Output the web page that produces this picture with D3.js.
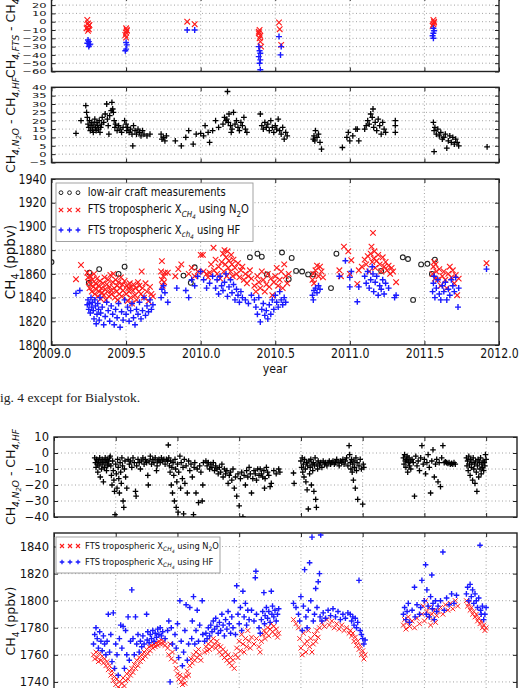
<!DOCTYPE html>
<html><head><meta charset="utf-8">
<script src="https://cdn.jsdelivr.net/npm/d3@7"></script>
<style>
body{margin:0;background:#fff}
svg{display:block}
text{white-space:pre}
.grid{stroke:#8a8a8a;stroke-width:0.8;stroke-dasharray:1,2.5}
</style>
</head><body>
<svg id="c" width="520" height="688"></svg>
<script>
// ---------------- tick values ----------------
const fig1XTicks = [2009.0,2009.5,2010.0,2010.5,2011.0,2011.5,2012.0];
const p1YTicks = [-60,-50,-40,-30,-20,-10,0,10,20];
const p2YTicks = [-5,0,5,10,15,20,25,30,35,40];
const p3YTicks = [1800,1820,1840,1860,1880,1900,1920,1940];
const fig2XTicks = [2009.0,2009.5,2010.0,2010.5,2011.0,2011.5,2012.0,2012.5];
const pAYTicks = [-40,-30,-20,-10,0,10];
const pBYTicks = [1740,1760,1780,1800,1820,1840];

// ---------------- figure 1 data ----------------
const f1DiffN2O = [[2009.24,2],[2009.245,-2],[2009.25,-5],[2009.24,-7],[2009.25,-9],[2009.245,-11],[2009.255,-4],[2009.235,-8],
[2009.5,-8],[2009.505,-11],[2009.5,-13],[2009.495,-16],[2009.5,-19],[2009.505,-10],
[2009.91,0],[2009.96,-3],
[2010.395,-10],[2010.39,-14],[2010.4,-17],[2010.395,-20],[2010.4,-24],[2010.39,-12],[2010.405,-30],
[2010.525,-1],[2010.53,-9],[2010.54,-28],
[2011.56,2],[2011.565,-1],[2011.56,-3],[2011.555,-5],[2011.565,0]];
const f1DiffHF = [[2009.245,-22],[2009.25,-24],[2009.24,-26],[2009.255,-28],[2009.25,-30],[2009.26,-27],
[2009.5,-25],[2009.505,-28],[2009.5,-33],[2009.495,-35],
[2009.91,-10],[2009.96,-10],
[2010.39,-30],[2010.395,-35],[2010.4,-38],[2010.39,-42],[2010.4,-46],[2010.395,-50],[2010.4,-58],
[2010.525,-18],[2010.54,-30],[2010.535,-40],
[2011.56,-8],[2011.565,-11],[2011.56,-14],[2011.555,-17],[2011.56,-20]];
const f1DiffInter = [[2009.164,12.5],[2009.198,20],[2009.23,29],[2009.235,25],[2009.24,22],[2009.245,18],[2009.25,16],[2009.255,20],[2009.26,14],[2009.265,17],[2009.27,19],[2009.275,15],[2009.28,13],[2009.285,18],[2009.29,21],[2009.295,16],[2009.3,14],[2009.305,19],[2009.31,17],[2009.315,15],[2009.32,20],[2009.325,13],[2009.33,16],[2009.335,18],[2009.34,22],[2009.35,19],[2009.36,24],[2009.37,30],[2009.375,21],[2009.38,17],[2009.385,12],[2009.39,23],[2009.4,26],[2009.405,31],[2009.41,27],[2009.415,25],[2009.42,20],[2009.425,16],[2009.43,18],[2009.44,14],[2009.45,17],[2009.46,15],[2009.47,13],[2009.48,16],[2009.49,20],[2009.5,18],[2009.505,14],[2009.51,16],[2009.52,13],[2009.53,15],[2009.54,12],[2009.545,5],[2009.55,17],[2009.56,14],[2009.57,12],[2009.58,15],[2009.59,13],[2009.6,11],[2009.61,14],[2009.62,12],[2009.64,11],[2009.66,12],
[2009.735,12],[2009.74,9],[2009.75,10],[2009.76,8],[2009.77,11],[2009.83,8],[2009.87,5],[2009.9,10],[2009.92,14],[2009.95,6],[2009.97,12],[2010.0,12.5],[2010.02,11],[2010.03,17],[2010.05,13],[2010.06,7],[2010.08,14],[2010.1,20],[2010.12,16],
[2010.15,18],[2010.16,22],[2010.17,20],[2010.175,21],[2010.18,37.5],[2010.185,19],[2010.19,24],[2010.2,17],[2010.205,13],[2010.21,15],[2010.22,25],[2010.23,18],[2010.24,20],[2010.25,16],[2010.26,14],[2010.27,19],[2010.28,17],[2010.29,22],[2010.3,15],[2010.31,13],
[2010.4,24],[2010.41,17],[2010.42,15],[2010.43,19],[2010.44,16],[2010.45,18],[2010.46,14],[2010.47,20],[2010.48,16],[2010.49,13],[2010.5,17],[2010.51,15],[2010.52,21],[2010.53,14],[2010.54,12],[2010.55,16],[2010.56,9],[2010.57,13],[2010.58,11],
[2010.755,9],[2010.76,11],[2010.765,8],[2010.77,14],[2010.78,10],[2010.79,12],[2010.8,7],[2010.81,3],
[2010.95,4],[2010.98,10],[2010.99,13],[2011.0,8],[2011.02,11],[2011.04,15],[2011.05,15],[2011.06,8],
[2011.1,15],[2011.11,17],[2011.12,20],[2011.13,18],[2011.14,24],[2011.15,22],[2011.155,27],[2011.16,16],[2011.17,19],[2011.18,14],[2011.19,21],[2011.2,17],[2011.21,12],[2011.22,19],[2011.23,15],[2011.24,13],
[2011.305,20],[2011.305,17],[2011.305,13],
[2011.56,19],[2011.565,14],[2011.565,1.5],[2011.57,16],[2011.58,12],[2011.59,15],[2011.6,11],[2011.61,13],[2011.62,9],[2011.63,10],[2011.64,12],[2011.65,3.6],[2011.66,8],[2011.67,11],[2011.68,7],[2011.69,10],[2011.7,6],[2011.71,9],[2011.72,7],[2011.73,5],
[2011.92,4.4]];
const f1Aircraft = [[2009.0,1870],[2009.254,1861],[2009.25,1852.5],[2009.32,1864],[2009.45,1860],[2009.49,1866],[2009.885,1858.5],[2009.934,1852.5],[2009.96,1865.5],[2010.33,1874],[2010.38,1877],[2010.41,1874.5],[2010.444,1859.5],[2010.545,1878],[2010.59,1855.5],[2010.61,1873.5],[2010.64,1862.5],[2010.68,1862],[2010.72,1859.5],[2010.755,1859.5],[2010.874,1848],[2010.91,1877],[2011.21,1862.5],[2011.355,1874],[2011.39,1872.5],[2011.424,1838],[2011.478,1868],[2011.52,1868.5],[2011.55,1860],[2011.57,1872]];
const f1N2O = [[2009.164,1855.5],[2009.198,1867.5],
[2009.24,1861],[2009.245,1857],[2009.25,1853],[2009.255,1848],[2009.26,1858],[2009.265,1851],[2009.27,1845],[2009.275,1855],[2009.28,1849],[2009.285,1860],[2009.29,1843],[2009.295,1852],[2009.3,1847],[2009.305,1856],[2009.31,1841],[2009.315,1850],[2009.32,1845],[2009.325,1854],[2009.33,1839],[2009.335,1848],[2009.34,1844],[2009.345,1852],[2009.35,1842],[2009.355,1857],[2009.36,1847],[2009.365,1838],[2009.37,1851],[2009.375,1845],[2009.38,1855],[2009.385,1841],[2009.39,1849],[2009.395,1859],[2009.4,1846],[2009.405,1843],[2009.41,1853],[2009.415,1860],[2009.42,1848],[2009.425,1840],[2009.43,1855],[2009.435,1845],[2009.44,1850],[2009.445,1838],[2009.45,1853],[2009.455,1843],[2009.46,1848],[2009.465,1857],[2009.47,1841],[2009.475,1851],[2009.48,1846],[2009.49,1854],[2009.5,1843],[2009.505,1850],[2009.51,1837],[2009.515,1848],[2009.52,1845],[2009.525,1852],[2009.53,1840],[2009.535,1849],[2009.54,1835],[2009.545,1846],[2009.55,1851],[2009.56,1842],[2009.565,1848],[2009.57,1838],[2009.58,1853],[2009.585,1845],[2009.59,1850],[2009.6,1843],[2009.605,1862],[2009.61,1848],[2009.62,1840],[2009.63,1852],[2009.64,1845],[2009.65,1837],[2009.66,1849],[2009.67,1843],[2009.68,1841],
[2009.74,1870.8],[2009.735,1862],[2009.74,1855],[2009.745,1850],[2009.75,1858],[2009.755,1853],[2009.76,1861],[2009.78,1861],[2009.83,1858],[2009.85,1864],[2009.87,1868],
[2009.92,1860],[2009.94,1865],[2009.96,1858],[2009.98,1862],[2010.0,1876],[2010.015,1876],[2010.02,1862],[2010.03,1906],[2010.04,1860],[2010.05,1857],[2010.06,1861],[2010.07,1868],[2010.086,1882],[2010.09,1863],
[2010.1,1872],[2010.11,1860],[2010.12,1866],[2010.13,1856],[2010.14,1870],[2010.15,1877],[2010.155,1862],[2010.16,1880],[2010.165,1868],[2010.17,1874],[2010.175,1858],[2010.18,1879],[2010.185,1865],[2010.19,1871],[2010.2,1862],[2010.205,1876],[2010.21,1868],[2010.215,1858],[2010.22,1872],[2010.23,1865],[2010.24,1860],[2010.25,1869],[2010.26,1857],[2010.27,1863],[2010.28,1866],[2010.29,1855],[2010.3,1860],[2010.31,1852],[2010.32,1858],[2010.33,1863],[2010.34,1856],
[2010.36,1850],[2010.37,1845],[2010.38,1858],[2010.39,1853],[2010.4,1848],[2010.41,1862],[2010.42,1855],[2010.43,1845],[2010.44,1851],[2010.45,1860],[2010.46,1849],[2010.47,1856],[2010.48,1842],[2010.49,1853],[2010.5,1858],[2010.51,1865],[2010.52,1850],[2010.53,1855],[2010.54,1862],[2010.55,1848],[2010.56,1868],[2010.57,1858],[2010.58,1852],[2010.59,1860],
[2010.75,1855],[2010.755,1860],[2010.76,1852],[2010.77,1863],[2010.78,1867],[2010.79,1858],[2010.8,1866],[2010.81,1862],[2010.82,1857],
[2010.93,1863],[2010.94,1858],[2010.96,1883],[2010.99,1879],[2011.01,1871.5],[2011.0,1860],[2011.05,1851.5],[2011.06,1863],
[2011.08,1866],[2011.1,1872],[2011.11,1868],[2011.12,1875],[2011.13,1862],[2011.14,1877],[2011.145,1883],[2011.15,1870],[2011.155,1894.5],[2011.16,1873],[2011.165,1879],[2011.17,1865],[2011.18,1871],[2011.19,1876],[2011.2,1868],[2011.21,1862],[2011.22,1874],[2011.23,1866],[2011.24,1870],[2011.25,1863],[2011.26,1867],[2011.27,1860],[2011.28,1865],[2011.29,1862],[2011.31,1853],
[2011.555,1860],[2011.56,1866],[2011.565,1870],[2011.57,1856],[2011.575,1868],[2011.58,1862],[2011.59,1855],[2011.6,1864],[2011.61,1850],[2011.62,1858],[2011.63,1862],[2011.64,1855],[2011.65,1848],[2011.66,1860],[2011.67,1866],[2011.68,1857],[2011.69,1863],[2011.7,1852],[2011.71,1859],[2011.72,1842],[2011.73,1856],
[2011.916,1869]];
const f1HF = [[2009.164,1843.5],[2009.19,1846],
[2009.24,1834],[2009.245,1838],[2009.25,1830],[2009.255,1835],[2009.26,1827],[2009.265,1840],[2009.27,1832],[2009.275,1836],[2009.28,1829],[2009.285,1822],[2009.29,1838],[2009.295,1833],[2009.3,1818],[2009.305,1826],[2009.31,1835],[2009.315,1830],[2009.32,1821],[2009.325,1840],[2009.33,1827],[2009.34,1832],[2009.35,1817],[2009.36,1824],[2009.37,1836],[2009.38,1829],[2009.39,1820],[2009.4,1833],[2009.41,1826],[2009.42,1817],[2009.43,1830],[2009.44,1823],[2009.45,1835],[2009.46,1815],[2009.47,1828],[2009.48,1821],[2009.49,1838],[2009.5,1826],[2009.51,1832],[2009.52,1820],[2009.53,1829],[2009.54,1835],[2009.55,1823],[2009.56,1817],[2009.57,1830],[2009.58,1826],[2009.59,1836],[2009.6,1822],[2009.61,1829],[2009.62,1840],[2009.63,1825],[2009.64,1833],[2009.65,1828],[2009.66,1838],[2009.67,1830],[2009.68,1834],
[2009.735,1840],[2009.74,1847],[2009.75,1850],[2009.76,1844],[2009.78,1836],[2009.84,1848],
[2009.9,1846],[2009.92,1840],[2009.94,1855],[2009.96,1850],[2009.98,1858],[2010.0,1862],[2010.01,1894],[2010.02,1855],[2010.04,1848],[2010.06,1852],[2010.08,1858],
[2010.1,1848],[2010.11,1855],[2010.12,1843],[2010.13,1858],[2010.14,1850],[2010.15,1846],[2010.16,1853],[2010.17,1860],[2010.18,1841],[2010.19,1849],[2010.2,1855],[2010.21,1844],[2010.22,1851],[2010.23,1838],[2010.24,1847],[2010.25,1842],[2010.26,1836],[2010.27,1845],[2010.28,1840],[2010.3,1838],[2010.32,1835],[2010.34,1842],
[2010.36,1838],[2010.37,1832],[2010.38,1826],[2010.39,1840],[2010.4,1819.5],[2010.41,1830],[2010.42,1835],[2010.43,1825],[2010.44,1829],[2010.45,1822],[2010.46,1834],[2010.47,1826],[2010.48,1838],[2010.49,1830],[2010.5,1842],[2010.51,1836],[2010.52,1832],[2010.53,1845],[2010.54,1838],[2010.55,1834],[2010.56,1840],[2010.57,1836],
[2010.75,1842],[2010.755,1838],[2010.76,1846],[2010.77,1848],[2010.78,1844],[2010.79,1850],[2010.8,1847],
[2010.93,1858],[2010.97,1871],[2011.0,1857],[2011.01,1862],[2011.0,1849],[2011.05,1836.5],[2011.06,1849],
[2011.1,1858],[2011.11,1852],[2011.12,1862],[2011.13,1848],[2011.14,1855],[2011.15,1866],[2011.155,1860],[2011.16,1845],[2011.17,1853],[2011.18,1858],[2011.19,1842],[2011.2,1850],[2011.21,1847],[2011.22,1855],[2011.23,1843],[2011.24,1852],[2011.26,1848],[2011.3,1840],[2011.31,1842],
[2011.555,1845],[2011.56,1852],[2011.565,1858],[2011.57,1840],[2011.58,1848],[2011.59,1855],[2011.6,1843],[2011.61,1838],[2011.62,1850],[2011.63,1845],[2011.64,1853],[2011.65,1838],[2011.66,1847],[2011.67,1842],[2011.68,1855],[2011.69,1850],[2011.7,1845],[2011.71,1857],[2011.725,1832],[2011.73,1848],
[2011.916,1864]];

// ---------------- figure 2 data (Bialystok) ----------------
const f2Diff = [[2009.33,-3],[2009.335,-6],[2009.34,-9],[2009.345,-4],[2009.35,-7],[2009.355,-12],[2009.36,-5],[2009.365,-8],[2009.37,-3],[2009.375,-15],[2009.38,-6],[2009.385,-10],[2009.39,-4],[2009.395,-7],[2009.4,-18],[2009.405,-5],[2009.41,-9],[2009.415,-3],[2009.42,-6],[2009.425,-11],[2009.43,-4],[2009.435,-8],[2009.44,-5],[2009.445,-7],[2009.45,-3],
[2009.455,-2],[2009.46,-8],[2009.465,-14],[2009.47,-20],[2009.475,-5],[2009.48,-11],[2009.485,-17],[2009.49,-24],[2009.494,-38.5],[2009.5,-7],[2009.505,-13],[2009.51,-22],[2009.515,-4],[2009.52,-9],[2009.525,-16],[2009.53,-25],[2009.535,-6],[2009.54,-12],[2009.545,-19],[2009.55,-3],[2009.555,-8],[2009.56,-30],[2009.565,-34],[2009.57,-10],[2009.575,-5],[2009.58,-15],[2009.59,-22],
[2009.6,-4],[2009.61,-7],[2009.62,-5],[2009.63,-9],[2009.64,-3],[2009.65,-6],[2009.66,-24],[2009.665,-27],[2009.67,-8],[2009.68,-4],[2009.69,-6],[2009.7,-10],[2009.71,-5],[2009.72,-3],[2009.73,-7],[2009.74,-4],[2009.75,-6],[2009.76,-14],[2009.764,-20],[2009.77,-5],[2009.78,-2],[2009.79,-7],[2009.8,-4],[2009.81,-6],[2009.82,-3],[2009.83,-11],[2009.835,-8],[2009.84,-5],[2009.85,-4],[2009.86,-6],[2009.87,-3],[2009.88,-5],[2009.89,-4],[2009.9,-7],[2009.91,-4],[2009.92,-5],
[2009.926,5],[2009.93,-3],[2009.935,-8],[2009.94,-12],[2009.945,-5],[2009.95,-20],[2009.955,-9],[2009.96,-25],[2009.965,-6],[2009.97,-14],[2009.975,-30],[2009.98,-4],[2009.985,-10],[2009.99,-34],[2009.995,-18],[2010.0,-7],[2010.005,-37],[2010.01,-12],[2010.02,-2],[2010.025,-22],[2010.03,-6],[2010.04,-16],[2010.045,-9],[2010.05,-38],[2010.055,-4],[2010.06,-19],[2010.07,-8],[2010.08,-25],[2010.09,-5],[2010.1,-11],[2010.11,-7],[2010.12,-15],[2010.13,-38.5],[2010.135,-9],[2010.14,-6],[2010.15,-25],[2010.16,-10],[2010.17,-31],[2010.18,-8],[2010.19,-12],[2010.2,-30],[2010.205,-20],[2010.21,-6],
[2010.23,-5],[2010.24,-8],[2010.25,-6],[2010.26,-10],[2010.27,-7],[2010.28,-9],[2010.29,-6],[2010.3,-11],[2010.31,-8],[2010.32,-10],[2010.33,-13],[2010.34,-9],[2010.35,-12],[2010.36,-7],[2010.37,-15],[2010.38,-10],[2010.39,-13],[2010.4,-11],[2010.41,-19],[2010.42,-14],[2010.43,-12],[2010.44,-17],[2010.45,-10],[2010.46,-22],[2010.47,-15],[2010.48,-27],[2010.49,-13],[2010.5,-33],[2010.51,-16],[2010.52,-12],[2010.53,-40],[2010.54,-14],[2010.55,-20],[2010.56,-11],[2010.57,-15],[2010.58,-9],[2010.59,-13],[2010.6,-25],[2010.61,-16],[2010.62,-11],[2010.63,-13],[2010.64,-17],[2010.65,-10],[2010.66,-14],
[2010.67,-10],[2010.68,-13],[2010.69,-15],[2010.7,-11],[2010.705,-22],[2010.71,-16],[2010.72,-9],[2010.73,-12],[2010.74,-14],[2010.75,-21],[2010.76,-19],[2010.78,-11],[2010.8,-13],[2010.82,-10],[2010.83,-12],
[2010.94,-12.5],[2010.945,-19],[2011.0,-5],[2011.005,-9],[2011.01,-3],[2011.015,-12],[2011.02,-7],[2011.025,-15],[2011.03,-4],[2011.035,-10],[2011.04,-18],[2011.045,-6],[2011.05,-23],[2011.055,-8],[2011.06,-35],[2011.065,-5],[2011.07,-13],[2011.075,-9],[2011.08,-4],[2011.085,-20],[2011.09,-7],[2011.095,-11],[2011.1,-6],[2011.105,-24],[2011.11,-8],[2011.115,-3],[2011.12,-29],[2011.125,-34],[2011.13,-7],[2011.135,-10],[2011.14,-5],[2011.15,-8],[2011.16,-6],[2011.17,-9],[2011.18,-5],[2011.19,-7],[2011.2,-6],[2011.21,-8],[2011.22,-6],[2011.23,-5],[2011.24,-7],[2011.25,-6],[2011.26,-5],[2011.27,-7],[2011.28,-6],[2011.29,-4],[2011.3,-6],[2011.31,-8],[2011.32,-5],[2011.33,-6],[2011.34,-4],[2011.35,-7],[2011.36,-5],[2011.37,-3],[2011.38,-8],[2011.39,4.6],[2011.395,-1],[2011.4,-6],[2011.405,-10],[2011.41,-4],[2011.415,-12],[2011.42,-7],[2011.425,-17],[2011.43,-5],[2011.435,-9],[2011.44,-22],[2011.445,-3],[2011.45,-11],[2011.455,-6],[2011.46,-29],[2011.47,-8],[2011.48,-4],[2011.49,-10],[2011.5,-32],[2011.505,-7],[2011.51,-9],
[2011.83,-3],[2011.835,-7],[2011.84,-1],[2011.845,-5],[2011.85,-9],[2011.855,-4],[2011.86,-2],[2011.865,-12],[2011.87,-6],[2011.875,-3],[2011.88,-8],[2011.885,-5],[2011.89,-10],[2011.9,-4],[2011.91,-6],[2011.92,-27],[2011.93,-2],[2011.94,-8],[2011.95,-5],[2011.96,-11],[2011.97,-3],[2011.98,4.6],[2011.99,-7],[2012.0,-4],[2012.01,-13],[2012.02,-6],[2012.03,-1],[2012.04,-9],[2012.05,-25],[2012.06,-5],[2012.07,2],[2012.08,-15],[2012.09,-7],[2012.1,-4],[2012.11,-18],[2012.12,-6],[2012.13,-21],[2012.14,-3],[2012.15,4.6],[2012.16,-6],[2012.17,-5.5],[2012.18,-6],[2012.19,-6.5],[2012.2,-6],[2012.21,-7],[2012.22,-6.5],[2012.23,-7],[2012.24,-6],[2012.25,-7],
[2012.34,-3],[2012.345,-8],[2012.35,-5],[2012.355,-11],[2012.36,-2],[2012.365,-7],[2012.37,-14],[2012.375,-4],[2012.38,-9],[2012.385,-6],[2012.39,-17],[2012.395,-3],[2012.4,-10],[2012.405,-7],[2012.41,-19],[2012.415,-5],[2012.42,-12],[2012.425,-24],[2012.43,-8],[2012.435,-4],[2012.44,-15],[2012.445,-6],[2012.45,-10],[2012.455,-3],[2012.46,-13],[2012.465,-7],[2012.47,-9],[2012.475,-5],[2012.48,-11],[2012.485,-6],[2012.49,-8],[2012.495,-1],[2012.5,-4]];
const f2N2O = [[2009.32,1760],[2009.33,1757],[2009.34,1762],[2009.35,1758],[2009.36,1755],[2009.37,1761],[2009.38,1756],[2009.39,1759],[2009.4,1754],[2009.41,1757],[2009.42,1752],
[2009.43,1755],[2009.44,1749],[2009.45,1752],[2009.46,1745],[2009.47,1748],[2009.48,1741],[2009.49,1744],[2009.5,1738],[2009.51,1742],[2009.52,1736],[2009.53,1740],[2009.54,1735],[2009.55,1739],[2009.56,1743],[2009.57,1737],[2009.58,1741],[2009.59,1746],[2009.6,1742],[2009.61,1748],[2009.62,1745],
[2009.63,1750],[2009.64,1747],[2009.65,1753],[2009.66,1750],[2009.67,1756],[2009.68,1752],[2009.69,1758],[2009.7,1755],[2009.71,1760],[2009.72,1757],[2009.73,1762],[2009.74,1759],[2009.75,1764],[2009.76,1761],[2009.77,1766],[2009.78,1763],[2009.79,1767],[2009.8,1765],[2009.81,1768],[2009.82,1766],[2009.83,1769],[2009.84,1767],[2009.85,1770],[2009.86,1768],[2009.87,1771],[2009.88,1768],[2009.89,1770],[2009.9,1767],
[2009.92,1765],[2009.93,1760],[2009.94,1768],[2009.95,1757],[2009.96,1762],
[2009.98,1755],[2009.99,1750],[2010.0,1746],[2010.01,1742],[2010.02,1745],[2010.03,1740],[2010.04,1738],[2010.05,1743],[2010.06,1739],[2010.07,1744],[2010.08,1748],[2010.09,1745],
[2010.1,1752],[2010.11,1757],[2010.12,1754],[2010.13,1760],[2010.14,1756],[2010.15,1762],[2010.16,1758],[2010.17,1764],[2010.18,1760],[2010.19,1756],
[2010.22,1762],[2010.23,1766],[2010.24,1763],[2010.25,1768],[2010.26,1764],[2010.27,1770],[2010.28,1766],[2010.29,1772],[2010.3,1768],[2010.31,1765],[2010.32,1770],[2010.33,1767],[2010.34,1762],[2010.35,1766],[2010.36,1760],[2010.37,1764],[2010.38,1758],[2010.39,1762],[2010.4,1756],[2010.41,1760],[2010.42,1754],[2010.43,1758],[2010.44,1752],
[2010.45,1756],[2010.46,1750],[2010.47,1760],[2010.48,1765],[2010.49,1758],[2010.5,1770],[2010.51,1763],[2010.52,1775],[2010.53,1768],[2010.54,1762],[2010.55,1772],[2010.56,1766],[2010.57,1778],[2010.58,1770],[2010.59,1765],[2010.6,1773],
[2010.62,1768],[2010.64,1772],[2010.66,1766],[2010.67,1762],[2010.68,1770],[2010.69,1775],[2010.7,1778],[2010.71,1772],[2010.72,1776],[2010.73,1780],[2010.74,1774],[2010.75,1779],[2010.76,1783],[2010.77,1777],[2010.78,1781],[2010.79,1775],[2010.8,1779],[2010.81,1773],[2010.82,1776],
[2010.94,1786],[2010.96,1783],
[2010.98,1780],[2010.99,1772],[2011.0,1765],[2011.01,1760],[2011.02,1776],[2011.03,1768],[2011.04,1762],[2011.05,1770],[2011.06,1778],[2011.07,1766],[2011.08,1772],[2011.09,1762],[2011.1,1768],[2011.11,1775],[2011.12,1770],[2011.13,1778],[2011.14,1773],
[2011.15,1780],[2011.17,1784],[2011.19,1781],[2011.21,1786],[2011.23,1782],[2011.25,1785],[2011.27,1780],[2011.29,1783],[2011.31,1779],[2011.33,1782],[2011.35,1778],[2011.37,1780],[2011.39,1776],
[2011.4,1778],[2011.41,1774],[2011.42,1776],[2011.43,1770],[2011.44,1773],[2011.45,1767],[2011.46,1770],[2011.47,1764],[2011.48,1767],[2011.49,1760],[2011.5,1763],[2011.51,1757],[2011.52,1760],
[2011.83,1782],[2011.84,1786],[2011.85,1779],[2011.86,1784],[2011.87,1788],[2011.88,1781],[2011.9,1785],[2011.92,1780],[2011.94,1787],[2011.96,1783],
[2011.98,1790],[2011.99,1796],[2012.0,1785],[2012.01,1800],[2012.02,1792],[2012.03,1788],[2012.04,1795],[2012.05,1782],[2012.06,1790],[2012.07,1786],[2012.08,1793],[2012.09,1784],[2012.1,1789],
[2012.11,1792],[2012.13,1795],[2012.15,1790],[2012.17,1797],[2012.19,1793],[2012.21,1798],[2012.23,1794],[2012.25,1800],[2012.27,1796],
[2012.34,1800],[2012.35,1796],[2012.36,1798],[2012.37,1793],[2012.38,1795],[2012.39,1790],[2012.4,1792],[2012.41,1788],[2012.42,1790],[2012.43,1785],[2012.44,1787],[2012.45,1783],[2012.46,1785],[2012.47,1780],[2012.48,1782],[2012.49,1778],[2012.5,1780]];
const f2HF = [[2009.32,1768],[2009.33,1775],[2009.34,1780],[2009.35,1772],[2009.36,1765],[2009.37,1777],[2009.38,1770],[2009.39,1763],[2009.4,1774],[2009.41,1768],[2009.42,1760],
[2009.43,1770],[2009.44,1790],[2009.45,1762],[2009.46,1775],[2009.47,1755],[2009.48,1791],[2009.49,1750],[2009.5,1768],[2009.5,1835],[2009.51,1760],[2009.52,1745],[2009.53,1772],[2009.54,1782],[2009.55,1765],[2009.56,1781],[2009.57,1750],[2009.58,1778],[2009.59,1760],[2009.6,1788],[2009.61,1756],[2009.62,1770],
[2009.63,1808],[2009.64,1772],[2009.65,1760],[2009.66,1788],[2009.67,1768],[2009.68,1775],[2009.69,1762],[2009.7,1770],[2009.71,1766],[2009.72,1774],[2009.73,1768],[2009.75,1790],[2009.755,1771],[2009.76,1777],[2009.77,1769],[2009.78,1775],[2009.79,1772],[2009.8,1778],[2009.81,1770],[2009.82,1776],[2009.83,1773],[2009.84,1779],[2009.85,1775],[2009.86,1780],[2009.87,1774],[2009.88,1777],[2009.9,1772],
[2009.92,1778],[2009.93,1785],[2009.94,1740],[2009.95,1780],[2009.96,1768],
[2009.98,1775],[2009.99,1765],[2010.0,1783],[2010.01,1758],[2010.02,1800],[2010.03,1770],[2010.04,1752],[2010.05,1762],[2010.06,1778],[2010.07,1797],[2010.08,1756],[2010.09,1768],[2010.1,1795],
[2010.11,1824.5],[2010.115,1772],[2010.12,1785],[2010.13,1803],[2010.14,1768],[2010.15,1778],[2010.16,1793],[2010.17,1770],[2010.18,1782],[2010.2,1800],[2010.205,1775],
[2010.22,1770],[2010.23,1776],[2010.24,1772],[2010.25,1780],[2010.26,1774],[2010.27,1782],[2010.28,1777],[2010.29,1785],[2010.3,1779],[2010.31,1787],[2010.32,1781],[2010.33,1776],[2010.34,1784],[2010.35,1778],[2010.36,1790],[2010.37,1782],[2010.38,1774],[2010.39,1786],[2010.4,1779],[2010.41,1792],[2010.42,1783],[2010.43,1776],[2010.44,1788],
[2010.45,1780],[2010.46,1800],[2010.47,1775],[2010.48,1811],[2010.49,1790],[2010.5,1783],[2010.51,1795],[2010.52,1778],[2010.53,1807],[2010.54,1788],[2010.55,1798],[2010.56,1782],[2010.57,1793],[2010.58,1786],[2010.6,1793],[2010.63,1817],[2010.635,1821.7],
[2010.62,1785],[2010.64,1790],[2010.66,1780],[2010.67,1776],[2010.68,1786],[2010.69,1792],[2010.7,1806],[2010.705,1783],[2010.71,1789],[2010.72,1795],[2010.73,1787],[2010.74,1792],[2010.75,1784],[2010.76,1807],[2010.765,1790],[2010.77,1796],[2010.78,1788],[2010.79,1793],[2010.8,1785],[2010.81,1790],[2010.82,1794],
[2010.94,1798],[2010.96,1795],
[2010.98,1790],[2010.99,1785],[2011.0,1803],[2011.01,1778],[2011.02,1796],[2011.03,1823],[2011.04,1788],[2011.05,1780],[2011.06,1793],[2011.07,1828],[2011.08,1800],[2011.09,1847],[2011.1,1785],[2011.11,1790],[2011.12,1809],[2011.13,1795],[2011.14,1814],[2011.15,1820],[2011.155,1788],[2011.16,1848.5],
[2011.17,1785],[2011.18,1791],[2011.2,1787],[2011.22,1793],[2011.24,1789],[2011.26,1794],[2011.28,1788],[2011.3,1792],[2011.32,1786],[2011.34,1790],[2011.36,1787],[2011.38,1791],
[2011.4,1790],[2011.41,1785],[2011.42,1788],[2011.43,1782],[2011.44,1787],[2011.45,1780],[2011.46,1784],[2011.47,1815],[2011.48,1778],[2011.49,1775],[2011.5,1772],[2011.51,1768],[2011.52,1771],
[2011.83,1790],[2011.84,1795],[2011.85,1786],[2011.86,1792],[2011.87,1798],[2011.88,1784],[2011.9,1793],[2011.92,1810],[2011.925,1788],[2011.94,1797],[2011.96,1790],
[2011.97,1795],[2011.98,1815],[2012.01,1826.6],[2012.0,1800],[2012.015,1790],[2012.02,1808],[2012.03,1796],[2012.04,1788],[2012.05,1803],[2012.06,1819],[2012.065,1794],[2012.07,1798],[2012.08,1786],[2012.09,1800],[2012.1,1792],
[2012.11,1796],[2012.13,1800],[2012.15,1836],[2012.16,1793],[2012.18,1802],[2012.2,1797],[2012.22,1805],[2012.24,1798],[2012.26,1804],
[2012.34,1805],[2012.35,1810],[2012.36,1800],[2012.37,1812],[2012.38,1803],[2012.39,1808],[2012.4,1798],[2012.41,1805],[2012.42,1800],[2012.43,1795],[2012.44,1802],[2012.45,1841],[2012.455,1793],[2012.46,1790],[2012.47,1796],[2012.48,1786],[2012.49,1790],[2012.5,1795]];

// ---------------- drawing ----------------
const svg = d3.select('#c');
const SANS = '"DejaVu Sans",sans-serif';
const FRAME = '#222';
const RED = '#ff1a1a', BLUE = '#1a1aff';
const xMark = a => `M${-a},${-a}L${a},${a}M${-a},${a}L${a},${-a}`;
const plusMark = a => `M${-a},0H${a}M0,${-a}V${a}`;

function rich(t, parts, fs) {
  let cur = 0;
  parts.forEach(p => {
    const lvl = p.s || 0;
    const off = [0, 0.28 * fs, 0.48 * fs][lvl];
    const size = [fs, fs * 0.72, fs * 0.55][lvl];
    t.append('tspan').attr('dy', (off - cur).toFixed(2)).attr('font-size', size.toFixed(2))
      .attr('font-style', p.i ? 'italic' : null).text(p.t);
    cur = off;
  });
}

let clipId = 0;
function panel(o) {
  const g = svg.append('g');
  const x = d3.scaleLinear().domain(o.xd).range([o.l, o.r]);
  const y = d3.scaleLinear().domain(o.yd).range([o.b, o.t]);
  const id = 'clip' + (clipId++);
  g.append('clipPath').attr('id', id).append('rect')
    .attr('x', o.l).attr('y', o.t).attr('width', o.r - o.l).attr('height', o.b - o.t);
  g.append('g').selectAll('line').data(o.xt.filter(v => x(v) > o.l + 1 && x(v) < o.r - 1)).join('line')
    .attr('class', 'grid').attr('x1', d => x(d)).attr('x2', d => x(d)).attr('y1', o.t).attr('y2', o.b);
  g.append('g').selectAll('line').data(o.yt.filter(v => y(v) > o.t + 1 && y(v) < o.b - 1)).join('line')
    .attr('class', 'grid').attr('y1', d => y(d)).attr('y2', d => y(d)).attr('x1', o.l).attr('x2', o.r);
  const style = a => {
    a.select('.domain').remove();
    a.selectAll('.tick line').attr('stroke', FRAME).attr('stroke-width', 1);
    a.attr('font-family', SANS).attr('font-size', o.fs || 11);
    a.selectAll('text').attr('fill', '#111');
  };
  const ay = g.append('g').attr('transform', `translate(${o.l},0)`)
    .call(d3.axisLeft(y).tickValues(o.yt).tickSize(-4).tickPadding(5).tickFormat(o.yf || d3.format('d')))
    .call(style);
  if (o.ys) ay.selectAll('text').attr('transform', `scale(1,${o.ys})`);
  g.append('g').attr('transform', `translate(${o.r},0)`)
    .call(d3.axisRight(y).tickValues(o.yt).tickSize(-4).tickFormat('')).call(style);
  g.append('g').attr('transform', `translate(0,${o.t})`)
    .call(d3.axisTop(x).tickValues(o.xt).tickSize(-4).tickFormat('')).call(style);
  const ax = g.append('g').attr('transform', `translate(0,${o.b})`)
    .call(d3.axisBottom(x).tickValues(o.xt).tickSize(-4).tickPadding(4)
      .tickFormat(o.xlab ? d3.format('.1f') : '')).call(style);
  if (o.xlab && o.xs) ax.selectAll('text').attr('y', 4 / o.xs).attr('transform', `scale(1,${o.xs})`);
  g.append('rect').attr('x', o.l).attr('y', o.t).attr('width', o.r - o.l).attr('height', o.b - o.t)
    .attr('fill', 'none').attr('stroke', FRAME).attr('stroke-width', 1.4);
  const pts = g.append('g').attr('clip-path', `url(#${id})`);
  return {g, x, y, pts};
}

function scatter(P, data, kind, color, a, sw) {
  const sel = P.pts.append('g').selectAll('path').data(data).join('path')
    .attr('transform', d => `translate(${P.x(d[0]).toFixed(1)},${P.y(d[1]).toFixed(1)})`)
    .attr('fill', 'none').attr('stroke', color).attr('stroke-width', sw);
  if (kind === 'o') sel.attr('d', d3.symbol(d3.symbolCircle, Math.PI * a * a)());
  else sel.attr('d', kind === 'x' ? xMark(a) : plusMark(a));
}

function ylabel(x, y, parts, fs, anchor) {
  const t = svg.append('text').attr('transform', `translate(${x},${y}) rotate(-90)`)
    .attr('text-anchor', anchor || 'middle').attr('font-size', fs).attr('fill', '#111')
    .style('font-family', SANS);
  rich(t, parts, fs);
}
function legText(g, x, y, parts, fs, sy) {
  const t = g.append('text').attr('transform', `translate(${x},${y}) scale(1,${sy})`)
    .attr('font-size', fs).attr('fill', '#111').style('font-family', SANS);
  rich(t, parts, fs);
}

// ===== Figure 1 =====
const F1 = {l: 51.5, r: 499, xd: [2009, 2012], xt: fig1XTicks};
const P1 = panel({...F1, t: -3.2, b: 71.5, yd: [-60, 30], yt: p1YTicks, ys: 0.62, fs: 11.5});
scatter(P1, f1DiffN2O, 'x', RED, 2.8, 1.1);
scatter(P1, f1DiffHF, '+', BLUE, 3, 1.4);
const P2 = panel({...F1, t: 87.3, b: 162.5, yd: [-5, 40], yt: p2YTicks, ys: 0.62, fs: 11.5});
scatter(P2, f1DiffInter, '+', '#000', 2.9, 1.3);
const P3 = panel({...F1, t: 179, b: 345, yd: [1800, 1940], yt: p3YTicks, ys: 1.2, xlab: true, xs: 1.2, fs: 11});

svg.append('rect').attr('x', 56).attr('y', 183).attr('width', 197).attr('height', 58.5)
  .attr('fill', '#fff').attr('stroke', '#999').attr('stroke-width', 0.9);
scatter(P3, f1Aircraft, 'o', '#222', 2.4, 1.1);
scatter(P3, f1N2O, 'x', RED, 2.8, 1.1);
scatter(P3, f1HF, '+', BLUE, 3, 1.4);

const L1 = svg.append('g');
const lx = [61, 69.5, 78];
L1.selectAll('path.c').data(lx).join('path').attr('class', 'c')
  .attr('transform', d => `translate(${d},192.7)`).attr('d', d3.symbol(d3.symbolCircle, Math.PI * 3.6)())
  .attr('fill', 'none').attr('stroke', '#222').attr('stroke-width', 1);
L1.selectAll('path.r').data(lx).join('path').attr('class', 'r')
  .attr('transform', d => `translate(${d},210)`).attr('d', xMark(2.2)).attr('stroke', RED).attr('stroke-width', 1.1);
L1.selectAll('path.b').data(lx).join('path').attr('class', 'b')
  .attr('transform', d => `translate(${d},230)`).attr('d', plusMark(2.4)).attr('stroke', BLUE).attr('stroke-width', 1.3);
legText(L1, 87.7, 196.4, [{t: 'low-air craft measurements'}], 10, 1.15);
legText(L1, 87.7, 213.4, [{t: 'FTS tropospheric X'}, {t: 'CH', s: 1, i: 1}, {t: '4', s: 2, i: 1}, {t: ' using N'}, {t: '2', s: 1}, {t: 'O'}], 10, 1.15);
legText(L1, 87.7, 233.6, [{t: 'FTS tropospheric X'}, {t: 'ch', s: 1, i: 1}, {t: '4', s: 2, i: 1}, {t: ' using HF'}], 10, 1.15);

ylabel(15, 78, [{t: 'CH'}, {t: '4,FTS', s: 1, i: 1}, {t: ' - CH'}, {t: '4,aircraft', s: 1, i: 1}], 12.5, 'start');
ylabel(15, 125, [{t: 'CH'}, {t: '4,N', s: 1, i: 1}, {t: '2', s: 2, i: 1}, {t: 'O', s: 1, i: 1}, {t: ' - CH'}, {t: '4,HF', s: 1, i: 1}], 12.5);
ylabel(15, 262, [{t: 'CH'}, {t: '4', s: 1}, {t: ' (ppbv)'}], 13.5);
svg.append('text').attr('transform', 'translate(275,373) scale(1,1.15)').attr('text-anchor', 'middle')
  .attr('font-size', 11).attr('fill', '#111').style('font-family', SANS).text('year');

// caption
svg.append('text').attr('x', 0).attr('y', 401.5)
  .style('font-family', '"Liberation Serif","Times New Roman",serif')
  .attr('font-size', 13.5).attr('fill', '#222').text('ig. 4 except for Bialystok.');

// ===== Figure 2 =====
const F2 = {l: 54, r: 517, xd: [2009, 2012.75], xt: fig2XTicks};
const PA = panel({...F2, t: 437, b: 517, yd: [-40, 10], yt: pAYTicks, fs: 11.5});
scatter(PA, f2Diff, '+', '#000', 2.8, 1.3);
const PB = panel({...F2, t: 533, b: 709, yd: [1720, 1850], yt: pBYTicks, fs: 11.5});
svg.append('rect').attr('x', 56).attr('y', 537).attr('width', 164).attr('height', 36)
  .attr('fill', '#fff').attr('stroke', '#999').attr('stroke-width', 0.9);
scatter(PB, f2N2O, 'x', RED, 2.4, 1.0);
scatter(PB, f2HF, '+', BLUE, 2.8, 1.4);
const L2 = svg.append('g');
const lx2 = [62, 70, 78];
L2.selectAll('path.r').data(lx2).join('path').attr('class', 'r')
  .attr('transform', d => `translate(${d},546)`).attr('d', xMark(2)).attr('stroke', RED).attr('stroke-width', 1.1);
L2.selectAll('path.b').data(lx2).join('path').attr('class', 'b')
  .attr('transform', d => `translate(${d},562)`).attr('d', plusMark(2.3)).attr('stroke', BLUE).attr('stroke-width', 1.3);
legText(L2, 85, 549, [{t: 'FTS tropospheric X'}, {t: 'CH', s: 1, i: 1}, {t: '4', s: 2, i: 1}, {t: ' using N'}, {t: '2', s: 1}, {t: 'O'}], 8.3, 1);
legText(L2, 85, 565, [{t: 'FTS tropospheric X'}, {t: 'CH', s: 1, i: 1}, {t: '4', s: 2, i: 1}, {t: ' using HF'}], 8.3, 1);
ylabel(15, 477, [{t: 'CH'}, {t: '4,N', s: 1, i: 1}, {t: '2', s: 2, i: 1}, {t: 'O', s: 1, i: 1}, {t: ' - CH'}, {t: '4,HF', s: 1, i: 1}], 12.5);
ylabel(15, 621, [{t: 'CH'}, {t: '4', s: 1}, {t: ' (ppbv)'}], 12.5);
</script>
</body></html>
